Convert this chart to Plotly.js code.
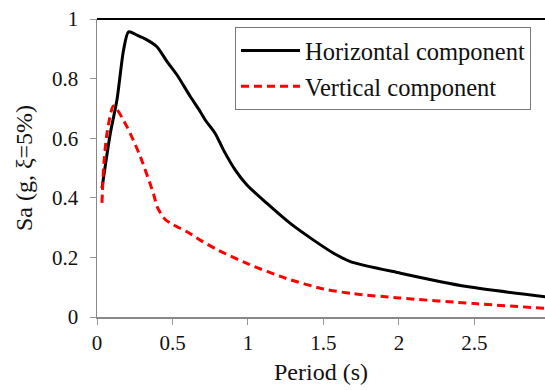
<!DOCTYPE html>
<html>
<head>
<meta charset="utf-8">
<script src="https://cdn.plot.ly/plotly-3.0.1.min.js"></script>
<style>
html,body{margin:0;padding:0;background:#fff;font-family:"Liberation Serif",serif;}
#chart{width:545px;height:390px;}
</style>
</head>
<body>
<div id="chart"></div>
<script>
// Horizontal component spectrum
var periodH = [0.033, 0.088, 0.132, 0.176, 0.209, 0.265, 0.331, 0.397, 0.464, 0.53, 0.619, 0.684, 0.717, 0.783, 0.838, 0.916, 0.993, 1.126, 1.28, 1.434, 1.567, 1.678, 2.01, 2.45, 2.97];
var saH     = [0.432, 0.616, 0.728, 0.896, 0.957, 0.946, 0.93, 0.907, 0.857, 0.812, 0.739, 0.689, 0.661, 0.616, 0.56, 0.493, 0.443, 0.381, 0.314, 0.258, 0.214, 0.186, 0.147, 0.102, 0.068];
// Vertical component spectrum
var periodV = [0.033, 0.044, 0.066, 0.11, 0.199, 0.287, 0.375, 0.40, 0.452, 0.507, 0.596, 0.684, 0.8, 1.0, 1.25, 1.5, 1.7, 2.0, 2.5, 2.97];
var saV     = [0.383, 0.504, 0.616, 0.708, 0.638, 0.538, 0.412, 0.368, 0.327, 0.309, 0.286, 0.258, 0.225, 0.178, 0.13, 0.094, 0.078, 0.064, 0.045, 0.029];
var xTicks = [0, 0.5, 1, 1.5, 2, 2.5];
var xTickText = ["0", "0.5", "1", "1.5", "2", "2.5"];
var yTicks = [0, 0.2, 0.4, 0.6, 0.8, 1];
var yTickText = ["0", "0.2", "0.4", "0.6", "0.8", "1"];
var seriesNames = ["Horizontal component", "Vertical component"];

var FONT = "Liberation Serif";
var traces = [
  {x: periodH, y: saH, name: seriesNames[0], mode: "lines", legendgroup: "a",
   line: {color: "#000000", width: 3, shape: "spline", smoothing: 0.7}},
  {x: periodV, y: saV, name: seriesNames[1], mode: "lines", legendgroup: "b",
   line: {color: "#ff0000", width: 3, dash: "8px,5px", shape: "spline", smoothing: 0.7}}
];
var layout = {
  width: 545, height: 390,
  margin: {l: 97, r: 0, t: 19, b: 73},
  paper_bgcolor: "#ffffff", plot_bgcolor: "#ffffff",
  font: {family: FONT, color: "#111111", size: 20},
  showlegend: true,
  legend: {x: 0.308, y: 0.973, xanchor: "left", yanchor: "top",
    bordercolor: "#777777", borderwidth: 1, bgcolor: "#ffffff",
    font: {family: FONT, size: 24.5, color: "#111111"}, tracegroupgap: 1, itemwidth: 59},
  xaxis: {range: [0, 2.967], tickvals: xTicks, ticktext: xTickText,
    showgrid: false, zeroline: false, showline: true, linecolor: "#888888", linewidth: 1.5,
    ticks: "outside", ticklen: 6, tickcolor: "#999999", tickwidth: 1,
    tickfont: {family: FONT, size: 21, color: "#111111"},
    title: {text: "Period (s)", font: {family: FONT, size: 24, color: "#111111"}, standoff: 9}},
  yaxis: {range: [0, 1], tickvals: yTicks, ticktext: yTickText,
    showgrid: false, zeroline: false, showline: true, linecolor: "#888888", linewidth: 1.5,
    ticks: "outside", ticklen: 6, tickcolor: "#999999", tickwidth: 1, ticklabelstandoff: 7,
    tickfont: {family: FONT, size: 21, color: "#111111"},
    title: {text: "Sa (g, ξ=5%)", font: {family: FONT, size: 24, color: "#111111"}, standoff: 12}},
  shapes: [{type: "line", xref: "paper", yref: "paper", x0: 0, x1: 1, y0: 1, y1: 1,
    line: {color: "#000000", width: 2}}]
};
Plotly.newPlot("chart", traces, layout, {displayModeBar: false, staticPlot: true});
</script>
</body>
</html>
